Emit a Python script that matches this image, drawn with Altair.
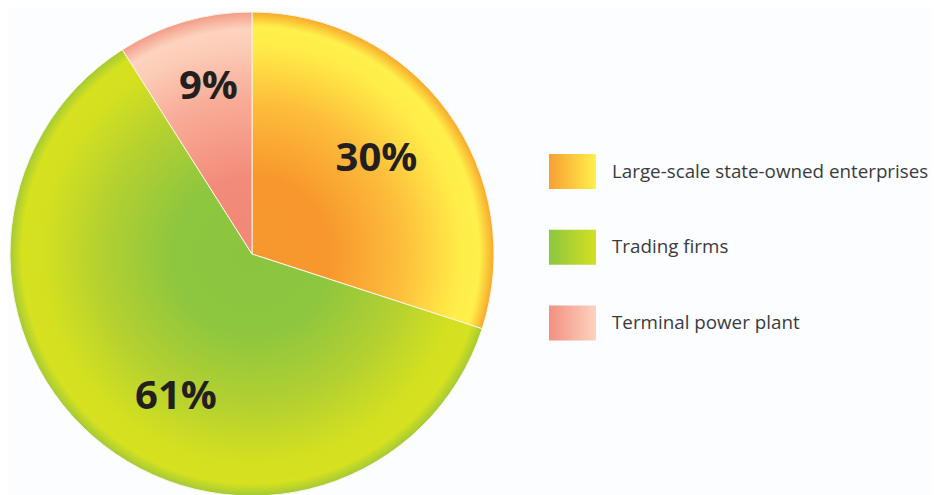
import math
import altair as alt
import pandas as pd

# ---- data ----
categories = ["Large-scale state-owned enterprises", "Trading firms", "Terminal power plant"]
shares = [30, 61, 9]
labels = ["30%", "61%", "9%"]

# radial colour stops per slice (offset as fraction of the radius, colour)
slice_stops = [
    [(0.0, "#f7982f"), (0.32, "#f7972e"), (0.62, "#fdbd3b"), (0.86, "#ffec48"),
     (0.94, "#fff04b"), (1.0, "#f8a82b")],
    [(0.0, "#8bc53f"), (0.32, "#8dc63f"), (0.62, "#b3d031"), (0.86, "#d3e020"),
     (0.95, "#d6e11f"), (1.0, "#a2ca36")],
    [(0.0, "#f28877"), (0.32, "#f38b7a"), (0.66, "#f8ae99"), (0.86, "#fccdb8"),
     (0.93, "#fdd3bf"), (1.0, "#f29c88")],
]
# legend swatch colours (left -> right)
legend_stops = [
    ["#f7a033", "#fff04b"],
    ["#8cc63f", "#d4e021"],
    ["#f39080", "#fcd3c0"],
]

# ---- layout / style ----
W, H = 924, 487
CX, CY = 244, 246          # pie centre within the plot
R = 242                    # pie radius
label_nudges = [(-5, -1), (22, 17), (1, -13)]

df = pd.DataFrame({"cat": categories, "share": shares, "label": labels,
                   "idx": list(range(len(categories)))})


def radial_gradient(a0, a1, stops):
    """Radial gradient centred on the pie centre, expressed in the unit square
    that Vega maps (xMidYMid slice) onto the slice's bounding box."""
    pts = [(0.0, 0.0), (math.sin(a0), -math.cos(a0)), (math.sin(a1), -math.cos(a1))]
    for k in range(5):
        ang = k * math.pi / 2
        if a0 <= ang <= a1:
            pts.append((math.sin(ang), -math.cos(ang)))
    xs = [p[0] * R for p in pts]
    ys = [p[1] * R for p in pts]
    bx0, bx1, by0, by1 = min(xs), max(xs), min(ys), max(ys)
    w, h = bx1 - bx0, by1 - by0
    s = max(w, h)
    ox = bx0 + (w - s) / 2
    oy = by0 + (h - s) / 2
    u, v, r = (0 - ox) / s, (0 - oy) / s, R / s
    return {"gradient": "radial", "x1": u, "y1": v, "r1": 0, "x2": u, "y2": v, "r2": r,
            "stops": [{"offset": o, "color": c} for o, c in stops]}


total = sum(shares)
grads = []
acc = 0
for sh, st in zip(shares, slice_stops):
    a0 = acc / total * 2 * math.pi
    acc += sh
    a1 = acc / total * 2 * math.pi
    grads.append(radial_gradient(a0, a1, st))

lin = [{"gradient": "linear", "x1": 0, "y1": 0, "x2": 1, "y2": 0,
        "stops": [{"offset": 0, "color": a}, {"offset": 1, "color": b}]} for a, b in legend_stops]


def by_cat(values):
    conds = [{"test": f"datum.cat === '{c}'", "value": v} for c, v in zip(categories[:-1], values[:-1])]
    return conds, values[-1]


fc, fd = by_cat(grads)
pie = alt.Chart(df).mark_arc(outerRadius=R, stroke="#fdf3e6", strokeWidth=1).encode(
    theta=alt.Theta("share:Q", stack=True),
    order=alt.Order("idx:Q"),
    x=alt.value(CX), y=alt.value(CY),
    fill=alt.FillValue(fd, condition=fc),
)

dx_expr = " : ".join(f"datum.cat === '{c}' ? {n[0]}" for c, n in zip(categories[:-1], label_nudges[:-1])) + f" : {label_nudges[-1][0]}"
dy_expr = " : ".join(f"datum.cat === '{c}' ? {n[1]}" for c, n in zip(categories[:-1], label_nudges[:-1])) + f" : {label_nudges[-1][1]}"

text = alt.Chart(df).mark_text(
    radius=160, font="Open Sans", fontWeight="bold", fontSize=40, color="#231f20",
    align="center", baseline="middle",
    dx=alt.expr(dx_expr), dy=alt.expr(dy_expr),
).encode(
    theta=alt.Theta("share:Q", stack=True),
    order=alt.Order("idx:Q"),
    x=alt.value(CX), y=alt.value(CY),
    text="label:N",
)

yscale = alt.Scale(type="point", domain=categories, range=[163.5, 315], padding=0)
lc, ld = by_cat(lin)
swatch = alt.Chart(df).mark_rect(height=35).encode(
    y=alt.Y("cat:N", scale=yscale, axis=None),
    x=alt.value(541), x2=alt.value(588),
    fill=alt.FillValue(ld, condition=lc),
)
legend_text = alt.Chart(df).mark_text(
    align="left", baseline="middle", font="Open Sans", fontSize=18.8, color="#3a3a3c",
).encode(
    y=alt.Y("cat:N", scale=yscale, axis=None),
    x=alt.value(604),
    text="cat:N",
)

chart = alt.layer(pie, text, swatch, legend_text).properties(
    width=W, height=H, padding=0, autosize="none", background="#fcfdff"
).configure_view(stroke=None)

chart.save("out.html", embed_options={"renderer": "svg", "actions": False})
